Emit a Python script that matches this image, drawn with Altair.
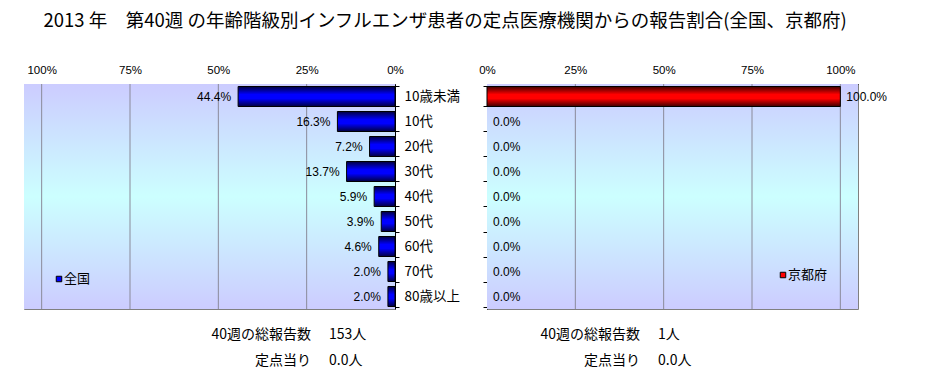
import altair as alt
import pandas as pd

# ---- data ----
ages = ["10歳未満", "10代", "20代", "30代", "40代", "50代", "60代", "70代", "80歳以上"]
zenkoku = [44.4, 16.3, 7.2, 13.7, 5.9, 3.9, 4.6, 2.0, 2.0]
kyoto = [100.0, 0.0, 0.0, 0.0, 0.0, 0.0, 0.0, 0.0, 0.0]
series_names = ["全国", "京都府"]
week_label = "40週の総報告数"
per_label = "定点当り"
total_reports = [153, 1]
per_sentinel = [0.0, 0.0]
tick_values = [0, 25, 50, 75, 100]
title_text = "2013 年　第40週 の年齢階級別インフルエンザ患者の定点医療機関からの報告割合(全国、京都府)"

W, H = 371, 225
JP = "Noto Sans CJK JP"
NUM = "Liberation Sans"

df_l = pd.DataFrame({"age": ages, "pct": zenkoku})
df_r = pd.DataFrame({"age": ages, "pct": kyoto})
df_grid = pd.DataFrame({"pct": tick_values[1:]})
one = pd.DataFrame({"a": [0]})

bg_grad = alt.Gradient(
    gradient="linear", x1=0, x2=0, y1=0, y2=1,
    stops=[alt.GradientStop(color="#ccccff", offset=0),
           alt.GradientStop(color="#ccffff", offset=0.5),
           alt.GradientStop(color="#ccccff", offset=1)])
blue_grad = alt.Gradient(
    gradient="linear", x1=0, x2=0, y1=0, y2=1,
    stops=[alt.GradientStop(color="#000040", offset=0),
           alt.GradientStop(color="#0000ff", offset=0.4),
           alt.GradientStop(color="#0000ff", offset=0.6),
           alt.GradientStop(color="#000040", offset=1)])
red_grad = alt.Gradient(
    gradient="linear", x1=0, x2=0, y1=0, y2=1,
    stops=[alt.GradientStop(color="#400000", offset=0),
           alt.GradientStop(color="#ff0000", offset=0.4),
           alt.GradientStop(color="#ff0000", offset=0.6),
           alt.GradientStop(color="#400000", offset=1)])

xaxis = alt.Axis(orient="top", values=tick_values, labelExpr="datum.value + '%'",
                 grid=False, tickSize=0, domainColor="black", labelColor="black",
                 labelFont=NUM, labelFontSize=11.5, labelPadding=9, title=None,
                 labelFlush=False)


def panel(df, reverse, grad, color, legend_x, legend_y, legend_name,
          total, per, left_side):
    xs = alt.Scale(domain=[0, 105], reverse=reverse, nice=False)
    X = alt.X("pct:Q", scale=xs, axis=xaxis)
    if left_side:
        yaxis = alt.Axis(orient="right", title=None, labelFont=JP, labelFontSize=13.5,
                         labelColor="black", labelPadding=5, tickSize=4, tickColor="black",
                         domainColor="black", tickBand="extent")
    else:
        yaxis = alt.Axis(orient="left", title=None, labels=False, tickSize=4,
                         tickColor="black", domainColor="black", tickBand="extent")
    Y = alt.Y("age:N", sort=ages, scale=alt.Scale(domain=ages, paddingInner=0.2, paddingOuter=0.1),
              axis=yaxis)

    bg = alt.Chart(one).mark_rect(fill=bg_grad, strokeWidth=0).encode(
        x=alt.value(0), x2=alt.value(W), y=alt.value(0), y2=alt.value(H))
    grid = alt.Chart(df_grid).mark_rule(color="#8a8a9a", strokeWidth=1).encode(x=X)
    bars = alt.Chart(df).transform_filter("datum.pct > 0").mark_bar(
        fill=grad, stroke="black", strokeWidth=1).encode(x=X, y=Y)
    if left_side:
        txt = alt.Chart(df).transform_calculate(
            lab="format(datum.pct, '.1f') + '%'"
        ).mark_text(align="right", dx=-7, baseline="middle", font=NUM, fontSize=12,
                    color="black").encode(x=X, y=Y, text="lab:N")
    else:
        txt = alt.Chart(df).transform_calculate(
            lab="format(datum.pct, '.1f') + '%'"
        ).mark_text(align="left", dx=6, baseline="middle", font=NUM, fontSize=12,
                    color="black").encode(x=X, y=Y, text="lab:N")
    leg_sym = alt.Chart(one).mark_square(size=30, fill=color, stroke="black", strokeWidth=1,
                                         opacity=1).encode(
        x=alt.value(legend_x), y=alt.value(legend_y))
    leg_txt = alt.Chart(one).mark_text(text=legend_name, align="left", baseline="middle",
                                       font=JP, fontSize=13, color="black").encode(
        x=alt.value(legend_x + 5), y=alt.value(legend_y))
    if left_side:
        bx_lab, bx_val = 287, 305
    else:
        bx_lab, bx_val = 153, 171
    b1 = alt.Chart(one).mark_text(text=week_label, align="right", baseline="middle",
                                  font=JP, fontSize=14, color="black").encode(
        x=alt.value(bx_lab), y=alt.value(251))
    b2 = alt.Chart(one).mark_text(text=f"{total}人", align="left", baseline="middle",
                                  font=JP, fontSize=14, color="black").encode(
        x=alt.value(bx_val), y=alt.value(251))
    b3 = alt.Chart(one).mark_text(text=per_label, align="right", baseline="middle",
                                  font=JP, fontSize=14, color="black").encode(
        x=alt.value(bx_lab), y=alt.value(277))
    b4 = alt.Chart(one).mark_text(text=f"{per:.1f}人", align="left", baseline="middle",
                                  font=JP, fontSize=14, color="black").encode(
        x=alt.value(bx_val), y=alt.value(277))
    return alt.layer(bg, grid, bars, txt, leg_sym, leg_txt, b1, b2, b3, b4).properties(
        width=W, height=H)


left = panel(df_l, True, blue_grad, "#0000ff", 35, 195, series_names[0],
             total_reports[0], per_sentinel[0], True)
right = panel(df_r, False, red_grad, "#ff0000", 296, 191, series_names[1],
              total_reports[1], per_sentinel[1], False)

chart = alt.hconcat(left, right, spacing=18).resolve_scale(
    x="independent", y="independent"
).properties(
    title=alt.TitleParams(text=title_text, anchor="start", dx=20, offset=33, fontSize=18.5,
                          font=JP, fontWeight="normal", color="black"),
    padding={"left": 15, "top": 4, "right": 5, "bottom": 0},
    background="white",
).configure_view(stroke="#808080", strokeWidth=1)

chart.save("out.html", embed_options={"renderer": "svg", "actions": False})
